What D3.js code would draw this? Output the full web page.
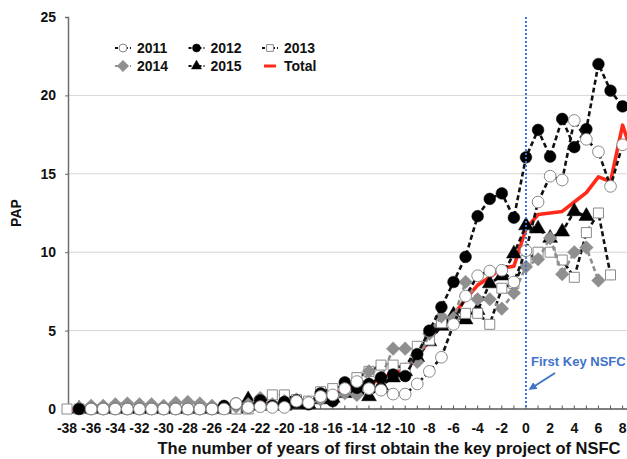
<!DOCTYPE html>
<html>
<head>
<meta charset="utf-8">
<script src="https://cdn.jsdelivr.net/npm/d3@7"></script>
<style>
  html, body { margin: 0; padding: 0; background: #fff; }
  svg { display: block; font-family: "Liberation Sans", Arial, Helvetica, sans-serif; }
</style>
</head>
<body>
<svg id="chart" width="627" height="459"></svg>
<script>
// Years relative to the first key NSFC project
const years = d3.range(-38, 10);

const y2011 = [null,null,0,0,0,0,0,0,0,0,0,0,0,0, 0.35,0.1,
  0.15,0.1,0.1,0.5,0.4,0.8,0.9,1.3,1.75,1.3,1.2,0.95,0.95,1.6,2.4,3.3,5.4,7.2,8.5,8.8,8.85,8.1,
  10.1,13.2,14.85,14.6,18.4,17.2,16.4,14.2,16.85, null];
const y2012 = [null,0,0,0,0,0,0,0,0,0,0,0,0,
  0.2,0.35,0.1,0.55,0.2,0.45,0.55,0.3,1.0,0.5,1.7,1.35,1.6,2.0,2.2,2.1,3.5,5.0,6.5,8.1,9.7,12.3,13.4,13.75,12.2,
  16.05,17.8,16.1,18.5,16.7,17.85,22.0,20.3,19.3,18.8];
const y2013 = [0,0,0,0,0,0,0,0,0,0,0,0,0,0,0,0,
  0.3,0.9,0.9,0.6,0.5,1.1,1.3,1.5,2.0,2.4,2.8,2.8,2.6,4.0,4.4,5.5,5.5,6.1,6.1,5.4,7.7,8.0,
  9.5,10.0,10.0,9.5,8.4,11.25,12.5,8.55,null,null];
const y2014 = [null,0.1,0.2,0.2,0.3,0.35,0.3,0.3,0.2,0.4,0.45,0.35,0.2,0.1,0.15,0.3,
  0.7,0.3,0.5,0.6,0.4,0.6,0.7,1.0,0.9,2.4,2.0,3.85,3.85,3.0,4.8,5.9,5.8,8.1,7.0,7.0,6.4,7.4,
  9.07,9.55,10.9,8.6,10.0,10.3,8.2,null,null,null];
const y2015 = [null,0,0,0,0,0,0,0,0,0,0,0,0,0,0,0.6,
  0.2,0.3,0.2,0.3,0.3,0.6,0.7,1.0,1.2,0.8,1.5,2.0,2.4,3.3,4.3,5.3,6.0,5.7,6.3,8.0,8.5,9.9,
  11.7,11.5,10.9,11.3,12.6,12.3,null,null,null,null];
const yTotal = [0,0.05,0.05,0.05,0.05,0.05,0.05,0.05,0.05,0.05,0.05,0.05,0.05,0.1,0.2,0.25,
  0.4,0.3,0.4,0.5,0.45,0.8,0.8,1.3,1.4,1.6,1.9,2.3,2.5,3.3,4.4,5.4,6.0,7.0,7.9,8.4,9.0,9.1,
  11.5,12.4,12.5,12.6,13.2,13.8,14.8,14.5,18.1,15.8];

const xTickLabels = d3.range(-38, 9, 2);
const yTickLabels = [0, 5, 10, 15, 20, 25];

const series = {
  s2011: { name: "2011", values: y2011, symbol: "circle",  fill: "#fff",    stroke: "#8a8a8a", line: "#111" },
  s2012: { name: "2012", values: y2012, symbol: "circle",  fill: "#000",    stroke: "#000",    line: "#111" },
  s2013: { name: "2013", values: y2013, symbol: "square",  fill: "#fff",    stroke: "#8a8a8a", line: "#111" },
  s2014: { name: "2014", values: y2014, symbol: "diamond", fill: "#8f8f8f", stroke: "#8f8f8f", line: "#8f8f8f" },
  s2015: { name: "2015", values: y2015, symbol: "triangle",fill: "#000",    stroke: "#000",    line: "#111" }
};
// Stacking order of the cohorts (bottom first)
const drawOrder = ["s2015", "s2013", "s2014", "s2012", "s2011"];

const svg = d3.select("#chart");
const W = 627, H = 459;

const x = d3.scaleLinear().domain([-38, 8]).range([67, 622.6]);
const y = d3.scaleLinear().domain([0, 25]).range([409, 17]);

const defs = svg.append("defs");
defs.append("clipPath").attr("id", "plotClip")
  .append("rect").attr("x", 40).attr("y", 0).attr("width", W - 40).attr("height", 425);

// Horizontal gridlines
svg.append("g")
  .selectAll("line")
  .data(yTickLabels.filter(v => v > 0 && v < 25))
  .join("line")
  .attr("x1", x(-38)).attr("x2", W)
  .attr("y1", d => y(d)).attr("y2", d => y(d))
  .attr("stroke", "#d6d6d6").attr("stroke-width", 1);

// Y axis
const yAxis = svg.append("g").attr("transform", `translate(${x(-38) + 1},0)`)
  .call(d3.axisLeft(y).tickValues(yTickLabels).tickSize(3).tickPadding(9));
yAxis.select(".domain").attr("stroke", "#6e6e6e").attr("stroke-width", 1.5);
yAxis.selectAll(".tick line").attr("stroke", "#6e6e6e");
yAxis.selectAll(".tick text").attr("font-size", 14).attr("font-weight", "bold").attr("fill", "#111");

// X axis: integer ticks pointing up, labels every two years
const xAxisG = svg.append("g").attr("transform", `translate(0,${y(0)})`);
xAxisG.append("line").attr("x1", x(-38)).attr("x2", W)
  .attr("stroke", "#555").attr("stroke-width", 1.6);
xAxisG.selectAll("line.minor")
  .data(d3.range(-38, 9))
  .join("line").attr("class", "minor")
  .attr("x1", d => x(d)).attr("x2", d => x(d))
  .attr("y1", 0).attr("y2", -3.5)
  .attr("stroke", "#555").attr("stroke-width", 1);
xAxisG.selectAll("text")
  .data(xTickLabels)
  .join("text")
  .attr("x", d => x(d)).attr("y", 24)
  .attr("text-anchor", "middle")
  .attr("font-size", 14).attr("font-weight", "bold").attr("fill", "#111")
  .text(d => d);

// Axis titles
svg.append("text")
  .attr("x", 389).attr("y", 454)
  .attr("text-anchor", "middle")
  .attr("font-size", 16.5).attr("font-weight", "bold").attr("fill", "#111")
  .text("The number of years of first obtain the key project of NSFC");
svg.append("text")
  .attr("transform", `translate(21,${y(12.5)}) rotate(-90)`)
  .attr("text-anchor", "middle")
  .attr("font-size", 14).attr("font-weight", "bold").attr("fill", "#111")
  .text("PAP");

// Marker shapes; the diamond is a square turned by 45 degrees
function markerPath(symbol, scale) {
  const k = scale || 1;
  if (symbol === "circle") return d3.symbol(d3.symbolCircle, 108 * k * k)();
  if (symbol === "square") return d3.symbol(d3.symbolSquare, 100 * k * k)();
  if (symbol === "triangle") return d3.symbol(d3.symbolTriangle, 95 * k * k)();
  const r = 6.8 * k;
  return `M0,${-r}L${r},0L0,${r}L${-r},0Z`;
}

const plot = svg.append("g").attr("clip-path", "url(#plotClip)");

const lineGen = d3.line()
  .defined(d => d.v !== null)
  .x(d => x(d.t)).y(d => y(d.v));

// Total line sits beneath the cohort markers
plot.append("path")
  .attr("d", lineGen(years.map((t, i) => ({ t, v: yTotal[i] }))))
  .attr("fill", "none")
  .attr("stroke", "#ff2a1a")
  .attr("stroke-width", 3.6)
  .attr("stroke-linejoin", "round");

drawOrder.forEach(key => {
  const s = series[key];
  const pts = years.map((t, i) => ({ t, v: s.values[i] }));
  const g = plot.append("g");
  g.append("path")
    .attr("d", lineGen(pts))
    .attr("fill", "none")
    .attr("stroke", s.line)
    .attr("stroke-width", 2.6)
    .attr("stroke-dasharray", "5,3");
  g.selectAll("path.m")
    .data(pts.filter(d => d.v !== null))
    .join("path").attr("class", "m")
    .attr("transform", d => `translate(${x(d.t)},${y(d.v)})`)
    .attr("d", markerPath(s.symbol))
    .attr("fill", s.fill)
    .attr("stroke", s.stroke)
    .attr("stroke-width", s.fill === "#fff" ? 1 : 0.5);
});

// First key NSFC marker line
const blue = "#3f72c9";
svg.append("line")
  .attr("x1", x(0)).attr("x2", x(0))
  .attr("y1", y(25)).attr("y2", y(0))
  .attr("stroke", blue).attr("stroke-width", 2)
  .attr("stroke-dasharray", "2,2");

defs.append("marker")
  .attr("id", "arrowHead")
  .attr("viewBox", "0 0 10 10").attr("refX", 8).attr("refY", 5)
  .attr("markerWidth", 4).attr("markerHeight", 4)
  .attr("orient", "auto")
  .append("path").attr("d", "M0,0 L10,5 L0,10 z").attr("fill", blue);
svg.append("line")
  .attr("x1", 555).attr("y1", 373)
  .attr("x2", 530).attr("y2", 389)
  .attr("stroke", blue).attr("stroke-width", 2)
  .attr("marker-end", "url(#arrowHead)");
svg.append("text")
  .attr("x", 531).attr("y", 366)
  .attr("font-size", 13).attr("font-weight", "bold").attr("fill", blue)
  .text("First Key NSFC");

// Legend
const legendItems = [
  { s: series.s2011, col: 0, row: 0 },
  { s: series.s2012, col: 1, row: 0 },
  { s: series.s2013, col: 2, row: 0 },
  { s: series.s2014, col: 0, row: 1 },
  { s: series.s2015, col: 1, row: 1 },
  { s: { name: "Total" }, col: 2, row: 1 }
];
const legend = svg.append("g");
legendItems.forEach(it => {
  const cx = 123 + it.col * 73.5, cy = 48 + it.row * 18;
  const g = legend.append("g").attr("transform", `translate(${cx},${cy})`);
  if (it.s.symbol) {
    g.append("line").attr("x1", -8).attr("x2", 8)
      .attr("stroke", it.s.line).attr("stroke-width", 2).attr("stroke-dasharray", "3,2");
    g.append("path")
      .attr("d", markerPath(it.s.symbol, it.s.symbol === "diamond" ? 0.85 : 0.68))
      .attr("fill", it.s.fill).attr("stroke", it.s.stroke)
      .attr("stroke-width", it.s.fill === "#fff" ? 1 : 0.5);
  } else {
    g.append("line").attr("x1", -6).attr("x2", 6)
      .attr("stroke", "#ff2a1a").attr("stroke-width", 3);
  }
  g.append("text").attr("x", 14).attr("y", 5)
    .attr("font-size", 14).attr("font-weight", "bold").attr("fill", "#111")
    .text(it.s.name);
});
</script>
</body>
</html>
